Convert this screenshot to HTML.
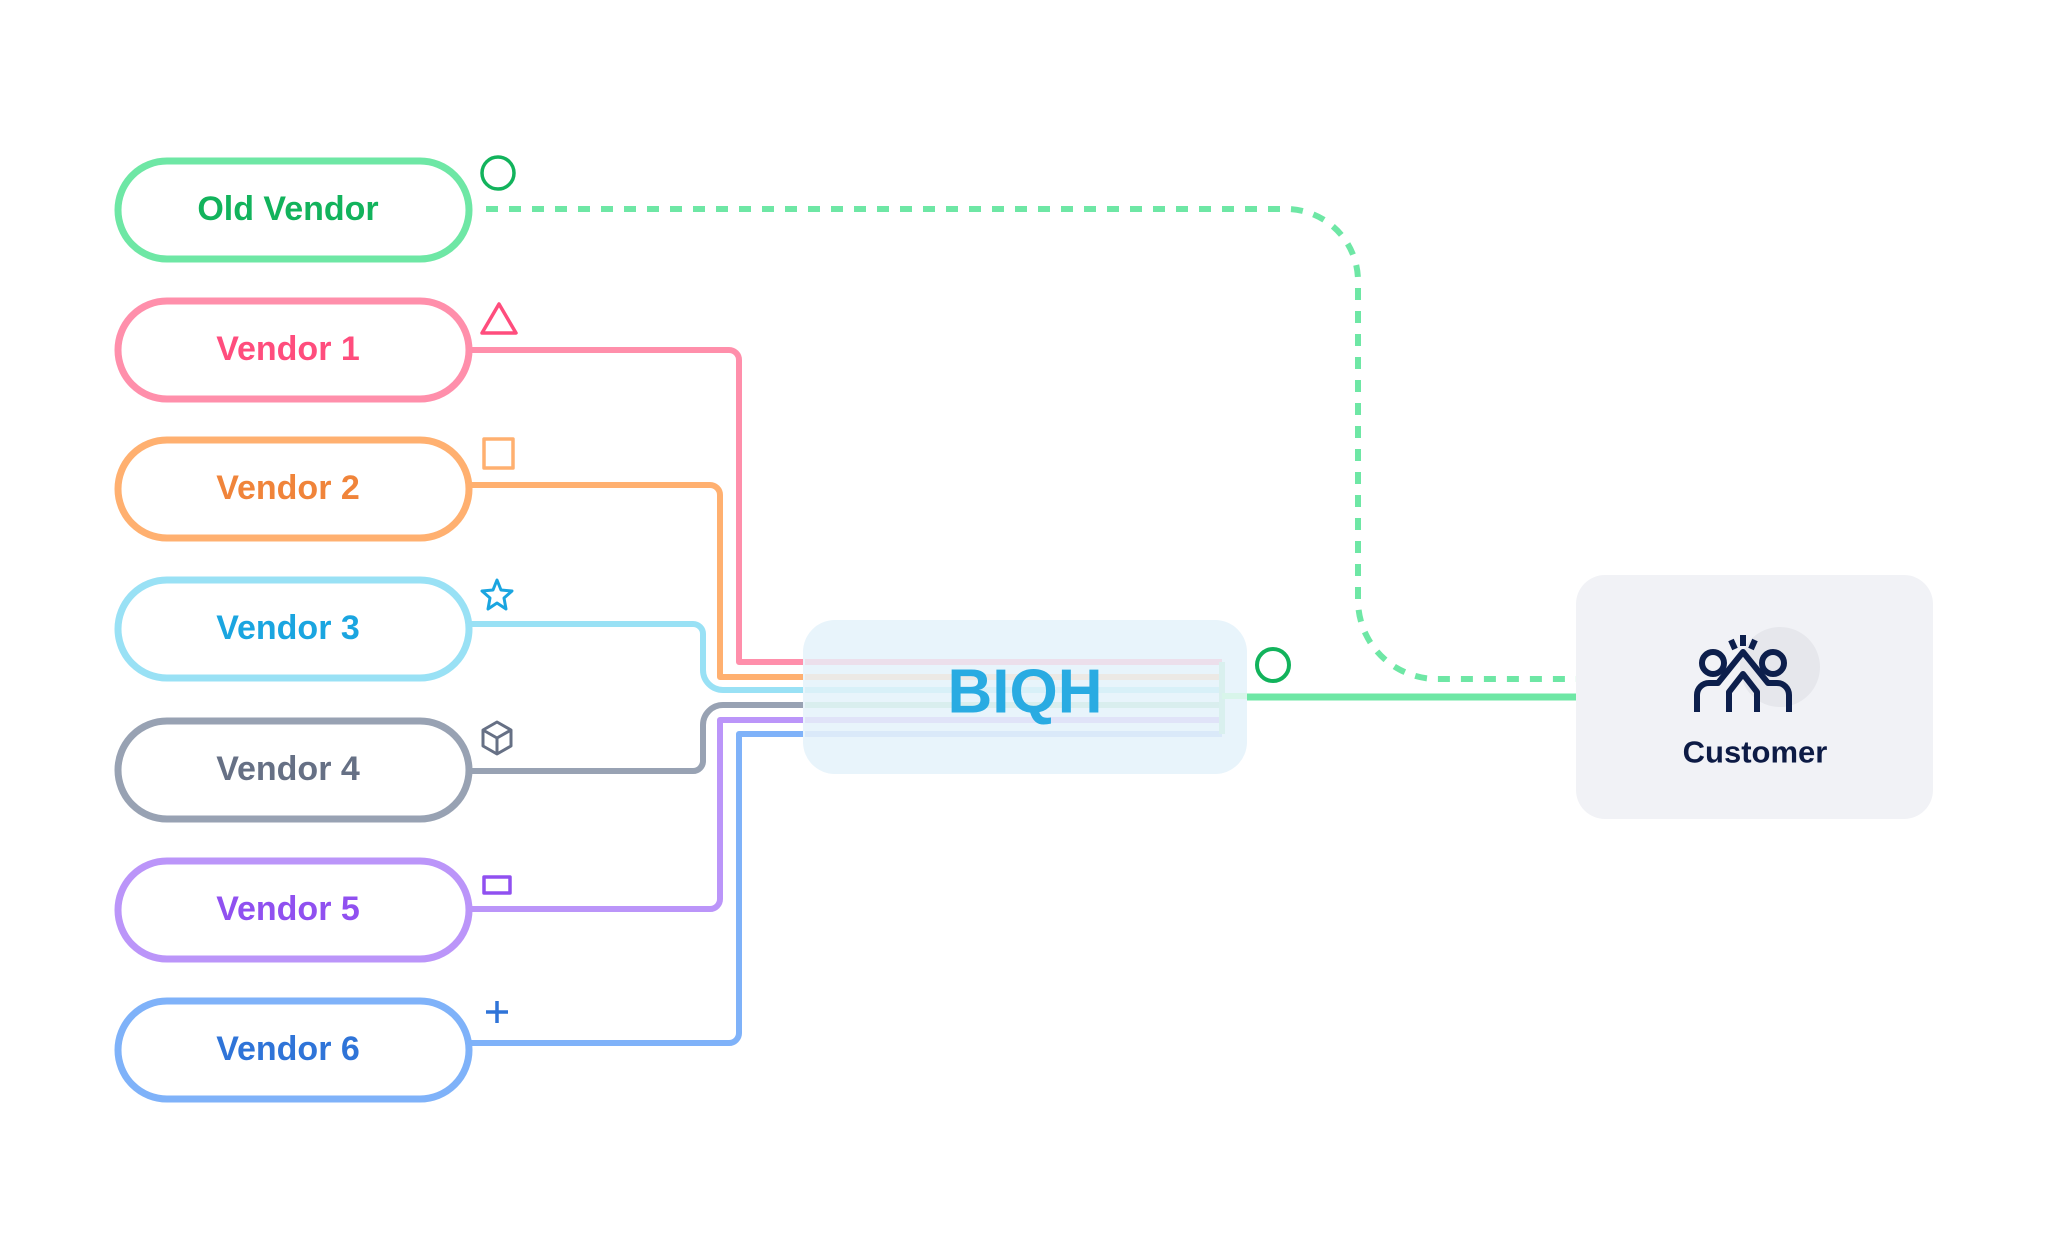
<!DOCTYPE html>
<html><head><meta charset="utf-8"><style>
html,body{margin:0;padding:0;background:#fff}
svg{display:block}
text{font-family:"Liberation Sans",sans-serif;font-weight:bold;text-anchor:middle;dominant-baseline:central}
</style></head><body>
<svg width="2048" height="1251" viewBox="0 0 2048 1251" xmlns="http://www.w3.org/2000/svg">
<g fill="none" stroke-width="6" stroke-linejoin="round">
<path d="M470 350 H729 a10 10 0 0 1 10 10 V662 H810" stroke="#ff8fab"/>
<path d="M470 485 H710 a10 10 0 0 1 10 10 V677 H810" stroke="#ffb070"/>
<path d="M470 624 H693 a10 10 0 0 1 10 10 V670 a20 20 0 0 0 20 20 H810" stroke="#99e1f5"/>
<path d="M470 771 H693 a10 10 0 0 0 10 -10 V725 a20 20 0 0 1 20 -20 H810" stroke="#98a2b3"/>
<path d="M470 909 H710 a10 10 0 0 0 10 -10 V720 H810" stroke="#bb95f9"/>
<path d="M470 1043 H729 a10 10 0 0 0 10 -10 V734 H810" stroke="#7fb2f9"/>
<path d="M486 209 H1286 a72 72 0 0 1 72 72 V600 a79 79 0 0 0 79 79 H1576" stroke="#6ee7a5" stroke-dasharray="12 11"/>
<path d="M1247 697 H1576" stroke="#6ee7a5" stroke-width="7"/>
</g>
<rect x="803" y="620" width="444" height="154" rx="32" fill="#e8f4fb"/>
<g stroke-width="6" opacity="0.45" fill="none">
<path d="M805 662 H1222" stroke="#f3c7d8"/>
<path d="M805 677 H1222" stroke="#f3dccc"/>
<path d="M805 690 H1222" stroke="#c6ecf5"/>
<path d="M805 705 H1222" stroke="#c8e8e0"/>
<path d="M805 720 H1222" stroke="#d8d0f5"/>
<path d="M805 734 H1222" stroke="#cadcf8"/>
<path d="M1222 662 V734" stroke="#c8ece0"/>
</g>
<rect x="1222" y="693" width="25" height="6" fill="#d8f5ea"/>
<text x="1025" y="692" font-size="62" fill="#29abe2">BIQH</text>
<circle cx="1273" cy="665" r="16" fill="none" stroke="#12b35c" stroke-width="4"/>
<rect x="1576" y="575" width="357" height="244" rx="29" fill="#f1f2f6"/>
<circle cx="1780" cy="667" r="40" fill="#e6e7ec"/>
<g fill="none" stroke="#0d1f4c" stroke-width="6" stroke-linejoin="round">
<circle cx="1713" cy="663" r="11"/>
<circle cx="1773" cy="663" r="11"/>
<path d="M1697 712 V695 a12 12 0 0 1 12 -12 H1718 L1743 652 L1768 683 H1777 a12 12 0 0 1 12 12 V712"/>
<path d="M1729 712 V692 L1743 674 L1757 692 V712"/>
<path d="M1743 635 V646 M1731 640 L1735 649 M1755 640 L1751 649"/>
</g>
<text x="1755" y="752" font-size="31" fill="#0d1b45">Customer</text>
<g fill="#fff" stroke-width="7">
<rect x="118" y="161" width="351" height="98" rx="49" stroke="#6ee7a5"/>
<rect x="118" y="301" width="351" height="98" rx="49" stroke="#ff8fab"/>
<rect x="118" y="440" width="351" height="98" rx="49" stroke="#ffb070"/>
<rect x="118" y="580" width="351" height="98" rx="49" stroke="#99e1f5"/>
<rect x="118" y="721" width="351" height="98" rx="49" stroke="#98a2b3"/>
<rect x="118" y="861" width="351" height="98" rx="49" stroke="#bb95f9"/>
<rect x="118" y="1001" width="351" height="98" rx="49" stroke="#7fb2f9"/>
</g>
<g font-size="34">
<text x="288" y="209" fill="#12b35c">Old Vendor</text>
<text x="288" y="349" fill="#ff4d7d">Vendor 1</text>
<text x="288" y="488" fill="#f0843a">Vendor 2</text>
<text x="288" y="628" fill="#1aa5e0">Vendor 3</text>
<text x="288" y="769" fill="#667085">Vendor 4</text>
<text x="288" y="909" fill="#9050f0">Vendor 5</text>
<text x="288" y="1049" fill="#2f74d8">Vendor 6</text>
</g>
<g fill="none" stroke-width="3.5" stroke-linejoin="round">
<circle cx="498" cy="173" r="16" stroke="#12b35c"/>
<path d="M499 304 L516 333 H482 Z" stroke="#ff4d7d"/>
<rect x="484" y="439" width="29" height="29" stroke="#ffb070"/>
<path d="M497 580 L501 590 L512 591 L504 598 L506 609 L497 603 L488 609 L490 598 L482 591 L493 590 Z" stroke="#1aa5e0" stroke-width="3"/>
<path d="M497 722 L511 730 V746 L497 754 L483 746 V730 Z M483 730 L497 738 L511 730 M497 738 V754" stroke="#667085" stroke-width="3"/>
<rect x="484" y="877" width="26" height="16" stroke="#9050f0"/>
<path d="M497 1001 V1023 M486 1012 H508" stroke="#2f74d8"/>
</g>
</svg>
</body></html>
